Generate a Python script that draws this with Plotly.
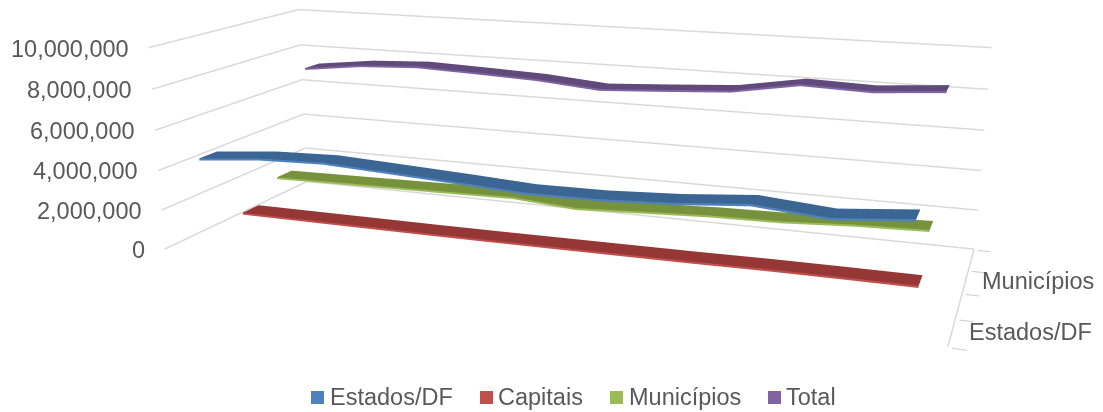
import plotly.graph_objects as go

# Annual totals per government level (11 periods).
periods = list(range(11))
estados = [4520000, 4810000, 4910000, 4760000, 4600000, 4420000, 4450000, 4610000, 4890000, 4620000, 4920000]
capitais = [830000, 830000, 830000, 830000, 840000, 860000, 880000, 900000, 940000, 950000, 950000]
municipios = [1870000, 1920000, 1970000, 2020000, 2080000, 1840000, 2000000, 2150000, 2210000, 2400000, 2500000]
total = [7200000, 7570000, 7720000, 7610000, 7480000, 7200000, 7380000, 7580000, 8130000, 8020000, 8260000]

series_names = ["Estados/DF", "Capitais", "Municípios", "Total"]
series_values = [estados, capitais, municipios, total]
top_colors = ["#3B6694", "#953735", "#77923C", "#60497B"]
edge_colors = ["#4F81BD", "#C0504D", "#9BBB59", "#8064A2"]

z_ticks = [0, 2000000, 4000000, 6000000, 8000000, 10000000]
z_labels = ["0", "2,000,000", "4,000,000", "6,000,000", "8,000,000", "10,000,000"]
depth_ticks = [-0.5, 0.5, 1.5, 2.5, 3.5]
depth_labels = [("Estados/DF", 0), ("Municípios", 2)]

# Legend swatch left edges and label left edges, in page pixels.
legend_swatch_x = [311, 480, 610, 768]
legend_text_x = [330, 498, 629, 786]

# The scene is taller than the page so the 45-degree camera gets a long focal length;
# the plot div is moved up by PAGE_SHIFT to keep the chart inside the window.
PAGE_W, SCENE_H, PAGE_SHIFT = 1103, 1161, 372
TEXT = "#595959"
GRID = "#D9D9D9"
FONT = "Liberation Sans"

# Walls sit at these limits; axis ranges get a small pad so wall lines are not clipped.
x_wall = [-0.5, 10.5]
y_wall = [-0.5, 3.5]
x_pad, y_pad, z_pad = 0.05, 0.05, 50000


def page_x(px):
    return px / PAGE_W


def page_y(py):
    return 1 - (py + PAGE_SHIFT) / SCENE_H


fig = go.Figure()

# Horizontal gridlines along the left and back walls.
for level in z_ticks:
    fig.add_trace(go.Scatter3d(
        x=[x_wall[0], x_wall[0], x_wall[1]], y=[y_wall[0], y_wall[1], y_wall[1]], z=[level] * 3,
        mode="lines", line=dict(color=GRID, width=3), hoverinfo="skip"))

# Depth axis line on the right side of the floor.
fig.add_trace(go.Scatter3d(
    x=[x_wall[1]] * 2, y=y_wall, z=[0, 0],
    mode="lines", line=dict(color=GRID, width=3), hoverinfo="skip"))

# Each series is a flat ribbon: a dark top face and a thin lighter front edge.
half_depth = 0.22
edge_height = 100000
for row, (name, values) in enumerate(zip(series_names, series_values)):
    xs, ys, zs = [], [], []
    for px, val in zip(periods, values):
        xs += [px, px, px]
        ys += [row - half_depth, row + half_depth, row - half_depth]
        zs += [val, val, val - edge_height]
    I, J, K, face = [], [], [], []
    for n in range(len(periods) - 1):
        a, b = 3 * n, 3 * (n + 1)
        I += [a, a, a, a]
        J += [a + 1, b + 1, b, b + 2]
        K += [b + 1, b, b + 2, a + 2]
        face += [top_colors[row]] * 2 + [edge_colors[row]] * 2
    fig.add_trace(go.Mesh3d(
        x=xs, y=ys, z=zs, i=I, j=J, k=K, facecolor=face, flatshading=True, name=name,
        lighting=dict(ambient=1, diffuse=0, specular=0, fresnel=0), hoverinfo="skip"))

hidden = dict(showbackground=False, showgrid=False, zeroline=False, showline=False,
              showticklabels=False, ticks="", title="", showspikes=False)

axis_text = dict(family=FONT, size=23.5, color=TEXT)
scene_notes = [
    dict(x=x_wall[0], y=y_wall[0], z=level, text=label, showarrow=False, xanchor="right",
         yanchor="middle", xshift=-18, yshift=-1, font=axis_text)
    for level, label in zip(z_ticks, z_labels)
]
scene_notes += [
    dict(x=x_wall[1], y=row, z=0, text=label, showarrow=False, xanchor="left",
         yanchor="middle", xshift=15, font=axis_text)
    for label, row in depth_labels
]

x_span = x_wall[1] - x_wall[0]
y_span = y_wall[1] - y_wall[0]
fig.update_layout(
    width=PAGE_W, height=SCENE_H, margin=dict(l=0, r=0, t=0, b=0),
    paper_bgcolor="white", showlegend=False,
    scene=dict(
        domain=dict(x=[0, 1], y=[0, 1]),
        aspectmode="manual",
        aspectratio=dict(x=3.74 * (x_span + 2 * x_pad) / x_span,
                         y=1.389 * (y_span + 2 * y_pad) / y_span,
                         z=1 + 2 * z_pad / z_ticks[-1]),
        camera=dict(eye=dict(x=2.21, y=-6.206, z=1.59),
                    center=dict(x=-0.011, y=-0.224, z=-0.233),
                    up=dict(x=0, y=0, z=1)),
        xaxis=dict(range=[x_wall[0] - x_pad, x_wall[1] + x_pad], **hidden),
        yaxis=dict({**hidden, "ticks": "outside"}, range=[y_wall[0] - y_pad, y_wall[1] + y_pad],
                   tickcolor="#CCCCCC", tickwidth=2, ticklen=2, tickvals=depth_ticks),
        zaxis=dict(range=[-z_pad, z_ticks[-1] + z_pad], **hidden),
        annotations=scene_notes,
    ),
)

# Legend row under the chart.
for name, color, sx, tx in zip(series_names, edge_colors, legend_swatch_x, legend_text_x):
    fig.add_shape(type="rect", xref="paper", yref="paper", line_width=0, fillcolor=color,
                  x0=page_x(sx), x1=page_x(sx + 13), y0=page_y(404), y1=page_y(391))
    fig.add_annotation(xref="paper", yref="paper", x=page_x(tx), y=page_y(397), text=name,
                       showarrow=False, xanchor="left", yanchor="middle", xshift=-2,
                       font=dict(family=FONT, size=23.5, color=TEXT))

fig.write_html(
    "out.html",
    post_script=(
        "var g=document.getElementById('{plot_id}');"
        f"g.style.marginTop='-{PAGE_SHIFT}px';"
        "document.documentElement.style.overflow='hidden';"
        "document.body.style.overflow='hidden';"
    ),
)
